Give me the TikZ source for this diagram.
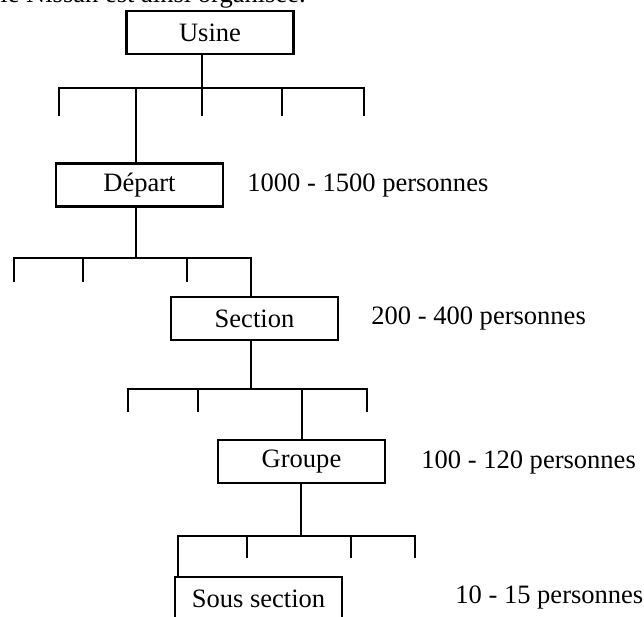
\documentclass[tikz,border=0pt]{standalone}
\usepackage{fontspec}
\setmainfont{Liberation Serif}

\tikzset{
  unit/.style={draw, minimum width=3.34cm, minimum height=0.86cm, inner sep=0pt},
  headcount/.style={anchor=west, inner sep=0pt},
}

\begin{document}
\begin{tikzpicture}[x=0.02cm, y=-0.02cm, line width=1.6pt,
    every node/.style={font=\fontsize{15.1}{18}\selectfont}]
        \useasboundingbox (0,0) rectangle (644,616);

        \node[anchor=base west, inner sep=0pt] (intro) at (-1,2) {le Nissan est ainsi organisée.};

        % levels
        \node[unit] (usine) at (210,32.5) {Usine};
        \node[unit] (depart) at (139.5,185) {Départ};
        \node[unit] (section) at (254.5,318.5) {Section};
        \node[unit] (groupe) at (301.5,461.5) {Groupe};
        \node[unit] (sous) at (258.5,598.5) {Sous section};

        \node[headcount] (nbdepart) at (246,185) {1000 - 1500 personnes};
        \node[headcount] (nbsection) at (370,318) {200 - 400 personnes};
        \node[headcount] (nbgroupe) at (420,462) {100 - 120 personnes};
        \node[headcount] (nbsous) at (454,597) {10 - 15 personnes};

        % branches under Usine
        \foreach \x [count=\i] in {59,136,202,282,364} {
            \coordinate (a\i) at (\x,88);
            \coordinate (ae\i) at (\x,116);
        }
        \draw (ae1) -- (a1) -- (a5) -- (ae5);
        \draw (a2) -- (ae2);
        \draw (a3) -- (ae3);
        \draw (a4) -- (ae4);
        \draw (usine.south -| a3) -- (a3);
        \draw (a2) -- (depart.north -| a2);

        % branches under Depart
        \foreach \x [count=\i] in {14,83,187,251} {
            \coordinate (b\i) at (\x,258);
            \coordinate (be\i) at (\x,282);
        }
        \coordinate (bj) at (136,258);
        \draw (be1) -- (b1) -- (b4) -- (be4);
        \draw (b2) -- (be2);
        \draw (b3) -- (be3);
        \draw (depart.south -| bj) -- (bj);
        \draw (b4) -- (section.north -| b4);

        % branches under Section
        \foreach \x [count=\i] in {128,198,302,367} {
            \coordinate (c\i) at (\x,389);
            \coordinate (ce\i) at (\x,412);
        }
        \coordinate (cj) at (251,389);
        \draw (ce1) -- (c1) -- (c4) -- (ce4);
        \draw (c2) -- (ce2);
        \draw (c3) -- (ce3);
        \draw (section.south -| cj) -- (cj);
        \draw (c3) -- (groupe.north -| c3);

        % branches under Groupe
        \foreach \x [count=\i] in {178,247,351,415} {
            \coordinate (d\i) at (\x,536);
            \coordinate (de\i) at (\x,558);
        }
        \coordinate (dj) at (301,536);
        \draw (de1) -- (d1) -- (d4) -- (de4);
        \draw (d2) -- (de2);
        \draw (d3) -- (de3);
        \draw (groupe.south -| dj) -- (dj);
        \draw (d1) -- (sous.north -| d1);
\end{tikzpicture}
\end{document}
